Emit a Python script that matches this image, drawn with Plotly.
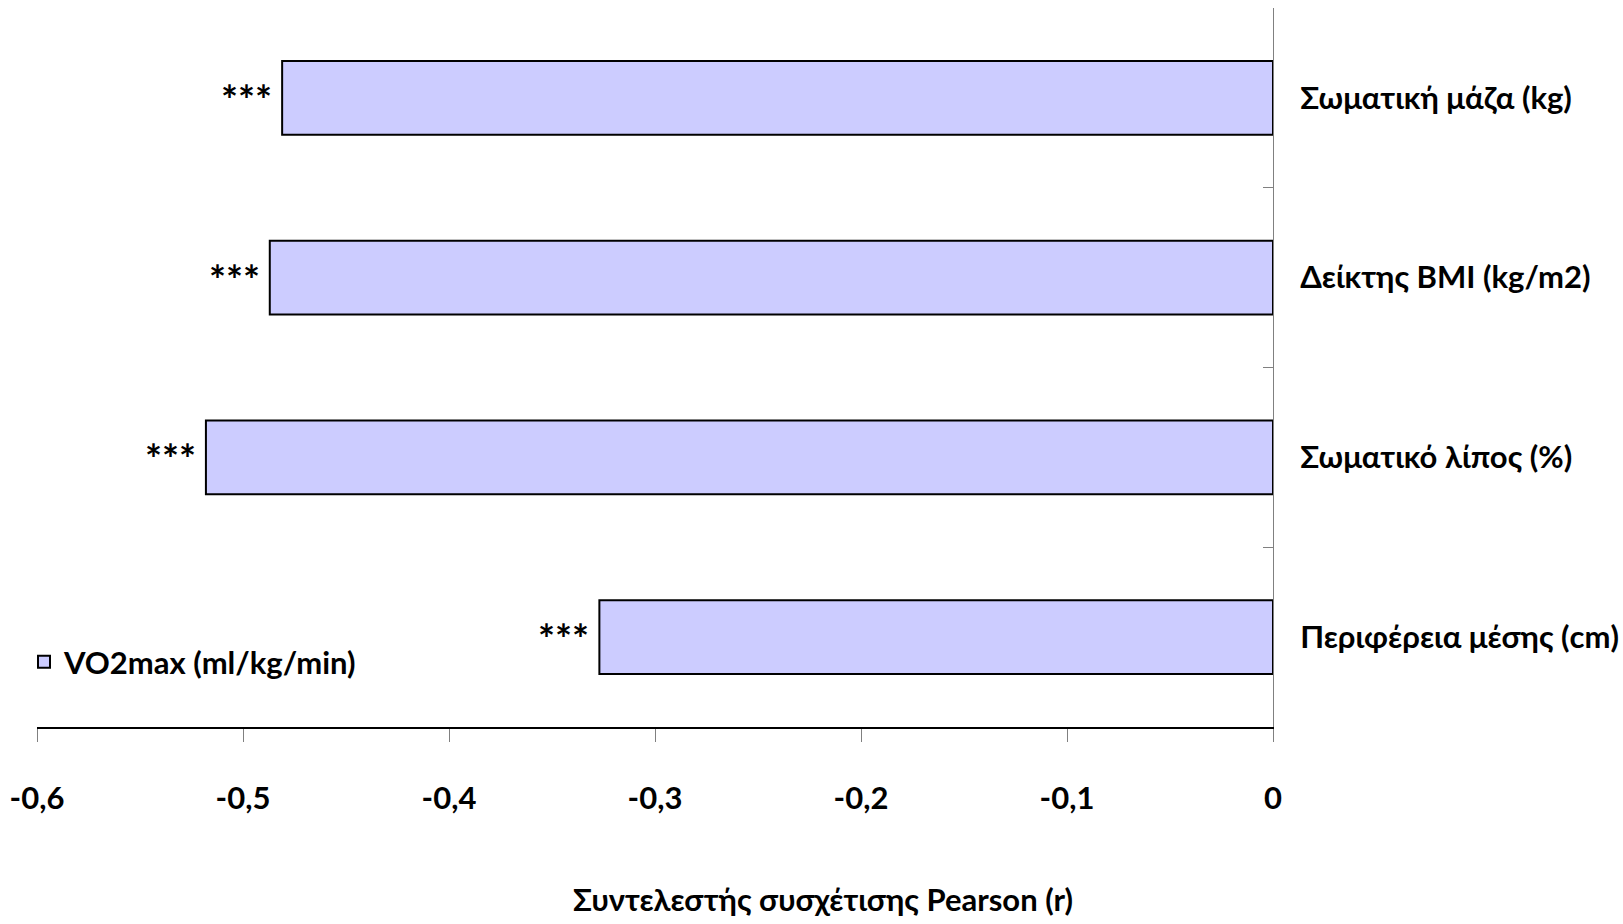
import plotly.graph_objects as go

categories = ["Σωματική μάζα (kg)", "Δείκτης BMI (kg/m2)", "Σωματικό λίπος (%)", "Περιφέρεια μέσης (cm)"]
r_values = [-0.481, -0.487, -0.518, -0.327]
significance = ["***", "***", "***", "***"]
series_name = "VO2max (ml/kg/min)"
x_ticks = [-0.6, -0.5, -0.4, -0.3, -0.2, -0.1, 0]
x_tick_text = ["-0,6", "-0,5", "-0,4", "-0,3", "-0,2", "-0,1", "0"]
x_title = "Συντελεστής συσχέτισης Pearson (r)"

FONT = "Lato, Open Sans, sans-serif"
FS = 31

W, H = 1623, 924
L, T = 37, 8
PW = 1236
PH = 719
R = W - L - PW
B = H - T - PH

fig = go.Figure()
fig.add_trace(go.Bar(
    y=categories, x=r_values, orientation="h", name=series_name,
    marker=dict(color="#CCCCFF", line=dict(color="black", width=2)),
    showlegend=True,
))

for c, v, s in zip(categories, r_values, significance):
    fig.add_annotation(x=v, y=c, text=s, showarrow=False, xanchor="right",
                       yanchor="middle", xshift=-8, yshift=-2,
                       font=dict(family=FONT, size=40, color="black", weight="bold"))

fig.add_annotation(xref="paper", yref="paper", x=(823 - L) / PW, y=-(899 - (T + PH)) / PH,
                   text=x_title, showarrow=False, xanchor="center", yanchor="middle",
                   font=dict(family=FONT, size=FS, color="black", weight="bold"))

fig.update_layout(
    width=W, height=H, margin=dict(l=L, r=R, t=T, b=B, autoexpand=False),
    paper_bgcolor="white", plot_bgcolor="white",
    bargap=0.59,
    font=dict(family=FONT, size=FS, color="black", weight="bold"),
    legend=dict(x=(24 - L) / PW, y=(T + PH - 662) / PH, xanchor="left", yanchor="middle",
                font=dict(family=FONT, size=FS, color="black", weight="bold"),
                bgcolor="rgba(0,0,0,0)", itemwidth=30),
    xaxis=dict(range=[-0.6, 0], tickvals=x_ticks, ticktext=x_tick_text, automargin=False,
               showgrid=False, zeroline=False, showline=True, linecolor="black", linewidth=2,
               ticks="outside", ticklen=13, tickcolor="#808080", tickwidth=1,
               ticklabelstandoff=30,
               tickfont=dict(family=FONT, size=FS, color="black", weight="bold")),
    yaxis=dict(side="right", categoryorder="array", categoryarray=categories,
               autorange="reversed", showgrid=False, zeroline=False, automargin=False,
               showline=True, linecolor="#808080", linewidth=1,
               ticks="inside", ticklen=10, tickcolor="#808080", tickwidth=1,
               tickson="boundaries", ticklabelstandoff=20,
               tickfont=dict(family=FONT, size=FS, color="black", weight="bold")),
)

fig.write_html("out.html", config={"displayModeBar": False},
               post_script="document.body.style.margin='0';document.body.style.overflow='hidden';")
